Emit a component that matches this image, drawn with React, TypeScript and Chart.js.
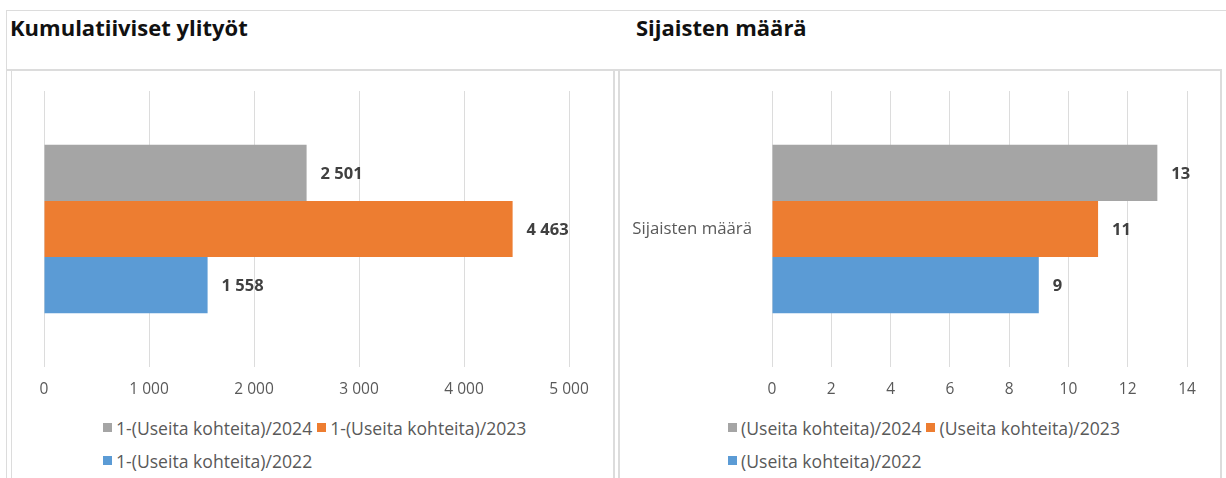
import React, { useEffect, useRef } from "react";
import { Chart, registerables } from "chart.js";

Chart.register(...registerables);

// ---- Data ----
const overtimeCategories = [""];
const overtimeSeriesNames = [
  "1-(Useita kohteita)/2024",
  "1-(Useita kohteita)/2023",
  "1-(Useita kohteita)/2022",
];
const overtime2024 = [2501];
const overtime2023 = [4463];
const overtime2022 = [1558];
const overtimeAxisMax = 5000;
const overtimeAxisStep = 1000;

const substituteCategories = ["Sijaisten määrä"];
const substituteSeriesNames = [
  "(Useita kohteita)/2024",
  "(Useita kohteita)/2023",
  "(Useita kohteita)/2022",
];
const substitutes2024 = [13];
const substitutes2023 = [11];
const substitutes2022 = [9];
const substituteAxisMax = 14;
const substituteAxisStep = 2;

const seriesColors = ["#A5A5A5", "#ED7D31", "#5B9BD5"];

const FONT = "'Open Sans', 'Noto Sans', sans-serif";
const LINE = "#DCDCDC";

function fmt(v: number): string {
  return String(v).replace(/\B(?=(\d{3})+(?!\d))/g, " ");
}

const valueLabels = {
  id: "valueLabels",
  afterDatasetsDraw(chart: any) {
    const ctx = chart.ctx;
    ctx.save();
    ctx.font = `bold 16.5px ${FONT}`;
    ctx.fillStyle = "#404040";
    ctx.textBaseline = "middle";
    ctx.textAlign = "left";
    chart.data.datasets.forEach((ds: any, i: number) => {
      const meta = chart.getDatasetMeta(i);
      meta.data.forEach((bar: any, j: number) => {
        ctx.fillText(fmt(ds.data[j] as number), bar.x + 14, bar.y + 1);
      });
    });
    ctx.restore();
  },
};

type BarProps = {
  categories: string[];
  names: string[];
  series: number[][];
  max: number;
  step: number;
  width: number;
  height: number;
  yAxisWidth: number;
  padRight: number;
  padTop: number;
  xAxisHeight: number;
};

function BarChart(p: BarProps) {
  const ref = useRef<HTMLCanvasElement | null>(null);
  useEffect(() => {
    if (!ref.current) return;
    const chart = new Chart(ref.current, {
      type: "bar",
      data: {
        labels: p.categories,
        datasets: p.series.map((d, i) => ({
          label: p.names[i],
          data: d,
          backgroundColor: seriesColors[i],
          borderWidth: 0,
          barPercentage: 1,
          categoryPercentage: 0.61,
        })),
      },
      options: {
        indexAxis: "y",
        responsive: false,
        maintainAspectRatio: false,
        animation: false,
        layout: { padding: { left: 0, right: p.padRight, top: p.padTop, bottom: 0 } },
        plugins: {
          legend: { display: false },
          tooltip: { enabled: false },
          title: { display: false },
        },
        scales: {
          x: {
            min: 0,
            max: p.max,
            grid: { color: LINE, lineWidth: 1, drawTicks: false },
            border: { display: false },
            ticks: {
              stepSize: p.step,
              padding: 13,
              color: "#595959",
              font: { family: FONT, size: 15.5 },
              callback: (v: any) => fmt(Number(v)),
            },
            afterFit: (s: any) => {
              s.height = p.xAxisHeight;
            },
          },
          y: {
            grid: { display: false, drawTicks: false },
            border: { display: false },
            ticks: {
              padding: 20,
              color: "#595959",
              font: { family: FONT, size: 16.8 },
            },
            afterFit: (s: any) => {
              s.width = p.yAxisWidth;
              s.paddingTop = 0;
              s.paddingBottom = 0;
            },
          },
        },
      },
      plugins: [valueLabels],
    } as any);
    return () => chart.destroy();
  }, []);
  return (
    <canvas
      ref={ref}
      width={p.width}
      height={p.height}
      style={{ width: p.width, height: p.height, display: "block" }}
    />
  );
}

function Legend({ names, left }: { names: string[]; left: number }) {
  const item = (i: number, extra: React.CSSProperties = {}) => (
    <span
      key={i}
      style={{ display: "inline-flex", alignItems: "center", ...extra }}
    >
      <span
        style={{
          width: 9,
          height: 9,
          background: seriesColors[i],
          display: "inline-block",
          marginRight: 4,
        }}
      />
      <span>{names[i]}</span>
    </span>
  );
  const textStyle: React.CSSProperties = {
    position: "absolute",
    left,
    fontFamily: FONT,
    fontSize: 17.6,
    color: "#595959",
    whiteSpace: "nowrap",
    lineHeight: "22px",
  };
  return (
    <>
      <div style={{ ...textStyle, top: 414 }}>
        {item(0)}
        {item(1, { marginLeft: 5 })}
      </div>
      <div style={{ ...textStyle, top: 447 }}>{item(2)}</div>
    </>
  );
}

function Line(props: { l: number; t: number; w: number; h: number }) {
  return (
    <div
      style={{
        position: "absolute",
        left: props.l,
        top: props.t,
        width: props.w,
        height: props.h,
        background: LINE,
      }}
    />
  );
}

export default function App() {
  const titleStyle: React.CSSProperties = {
    position: "absolute",
    top: 12,
    fontFamily: FONT,
    fontWeight: 700,
    fontSize: 22,
    color: "#111",
    whiteSpace: "nowrap",
    lineHeight: "30px",
  };
  return (
    <div
      style={{
        position: "fixed",
        left: 0,
        top: 0,
        width: 1226,
        height: 478,
        background: "#fff",
        overflow: "hidden",
      }}
    >
      <Line l={6} t={10} w={1220} h={1} />
      <Line l={6} t={10} w={1} h={468} />
      <Line l={6} t={69} w={1216} h={2} />
      <Line l={11} t={70} w={1} h={408} />
      <Line l={613} t={70} w={2} h={408} />
      <Line l={618} t={70} w={2} h={408} />
      <Line l={1220} t={70} w={2} h={408} />

      <div style={{ ...titleStyle, left: 10 }}>Kumulatiiviset ylityöt</div>
      <div style={{ ...titleStyle, left: 636 }}>Sijaisten määrä</div>

      <div style={{ position: "absolute", left: 12, top: 71 }}>
        <BarChart
          categories={overtimeCategories}
          names={overtimeSeriesNames}
          series={[overtime2024, overtime2023, overtime2022]}
          max={overtimeAxisMax}
          step={overtimeAxisStep}
          width={600}
          height={340}
          yAxisWidth={32}
          padRight={600 - (569 - 12)}
          padTop={20}
          xAxisHeight={44}
        />
      </div>
      <div style={{ position: "absolute", left: 620, top: 71 }}>
        <BarChart
          categories={substituteCategories}
          names={substituteSeriesNames}
          series={[substitutes2024, substitutes2023, substitutes2022]}
          max={substituteAxisMax}
          step={substituteAxisStep}
          width={600}
          height={340}
          yAxisWidth={772 - 620}
          padRight={600 - (1187 - 620)}
          padTop={20}
          xAxisHeight={44}
        />
      </div>

      <Legend names={overtimeSeriesNames} left={103} />
      <Legend names={substituteSeriesNames} left={728} />
    </div>
  );
}
